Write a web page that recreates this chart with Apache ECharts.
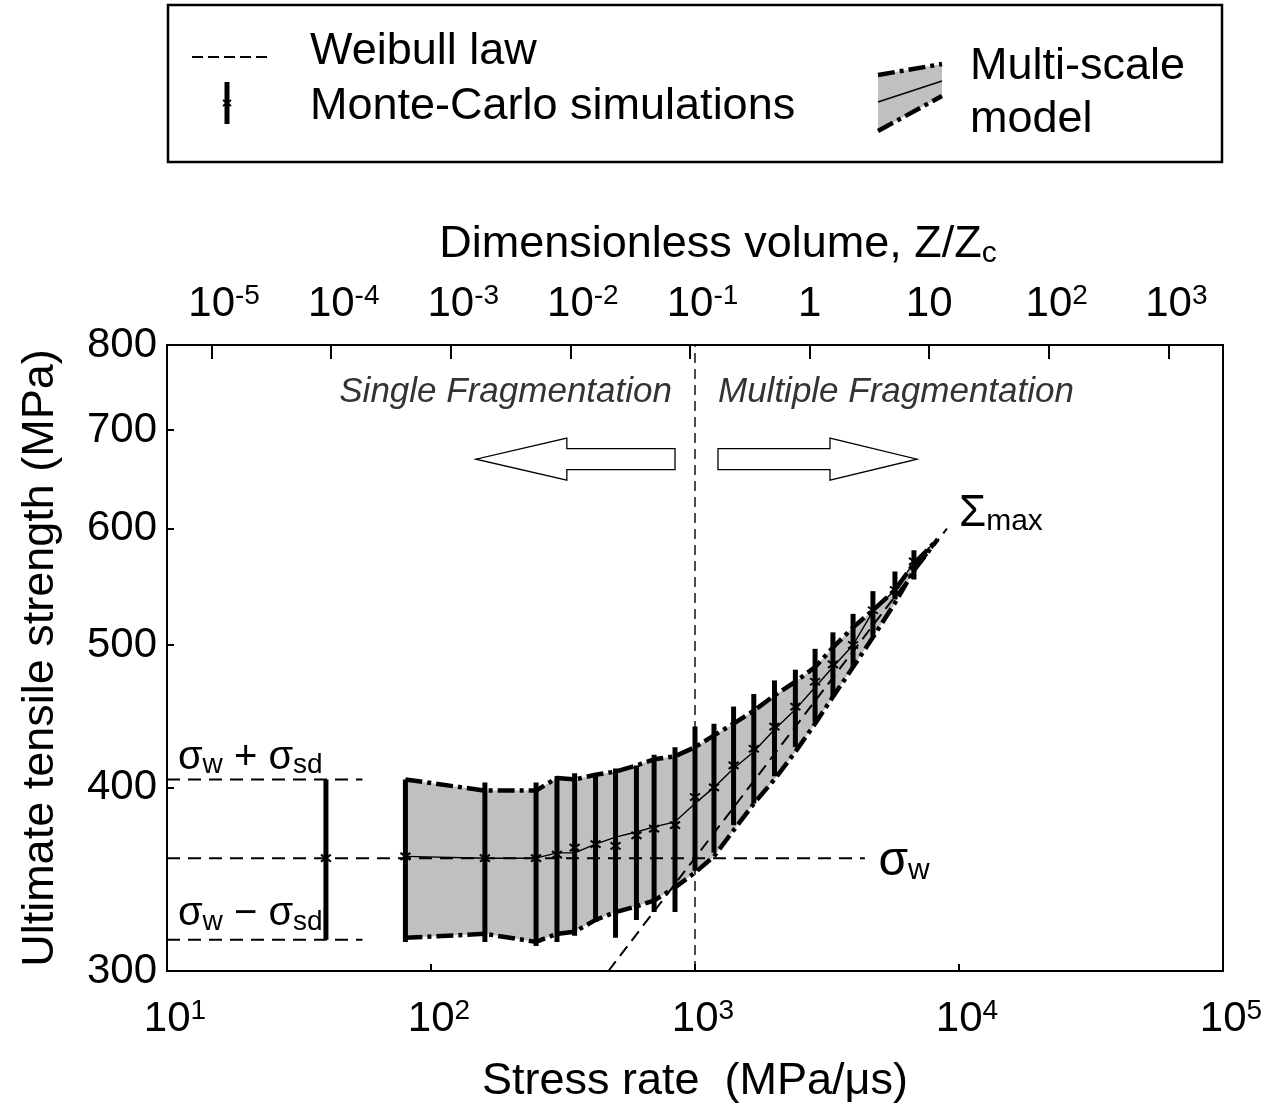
<!DOCTYPE html>
<html>
<head>
<meta charset="utf-8">
<script src="https://cdn.jsdelivr.net/npm/echarts@6/dist/echarts.min.js"></script>
<style>
html,body{margin:0;padding:0;background:#fff;}
#c{width:1283px;height:1115px;}
</style>
</head>
<body>
<div id="c"></div>
<script>
// ---------------- DATA ----------------
// Monte-Carlo simulations: stress rate (MPa/us) and strength (MPa)
const mcRates = [80,160,250,300,350,420,500,600,700,840,1000,1180,1400,1670,2000,2400,2850,3330,3970,4720,5720,6750];
const mcLow   = [314,314,312,314,317,324,316,325,329,329,351,361,377,390,407,426,443,461,483,507,537,554];
const mcMean  = [359,358,358,360,364,366,365,371,375,377,394,400,414,425,440,454,472,485,500,528,545,570];
const mcHigh  = [405,403,403,407,409,409,412,414,421,426,440,442,454,463,473,481,497,510,525,544,561,580];

// Multi-scale model band
const bandRates = [80,160,250,300,350,420,500,600,700,840,1000,1180,1400,1670,2000,2400,2850,3330,3970,4720,5720,6750,8300];
const bandUpper = [405,398,398,406,405,408,410,414,418,420,426,434,442,451,462,472,483,498,514,528,545,568,590];
const bandMean  = [359,358,358,361,361,366,370,373,376,379,390,400,412,423,438,452,468,483,500,527,545,569,590];
const bandLower = [316,318,314,318,319,325,329,332,335,342,350,359,374,390,405,423,442,461,483,506,534,562,590];

// Weibull law
const weibullRates  = [470, 9000];
const weibullValues = [300, 600];
const sigmaW = 358, sigmaPlus = 405, sigmaMinus = 315;
const sigmaWRates = [10, 4400];
const sigmaSdRates = [10, 55];
const refBar = [[40, 315, 358, 405]];   // rate, low, mean, high
const transitionRate = 1000;

// ticks
const bottomTicks = [1e1, 1e2, 1e3, 1e4, 1e5];
const topTicks = [1e-5, 1e-4, 1e-3, 1e-2, 1e-1, 1, 10, 100, 1000];
const yTicks = [300, 400, 500, 600, 700, 800];

// ---------------- CHART ----------------
const FONT = "'Liberation Sans', Arial, Helvetica, sans-serif";
const chart = echarts.init(document.getElementById('c'), null, {renderer: 'canvas'});

const supRich = {
  b: {fontSize: 42, lineHeight: 44, fontFamily: FONT, color: '#000'},
  s: {fontSize: 28, lineHeight: 16, verticalAlign: 'top', fontFamily: FONT, color: '#000'},
  p1: {fontSize: 28, lineHeight: 16, width: 16, fontFamily: FONT},
  p2: {fontSize: 28, lineHeight: 16, width: 25, fontFamily: FONT}
};
function powLabel(v, plainSmall) {
  const e = Math.round(Math.log10(v));
  if (plainSmall && e === 0) return '{b|1}';
  if (plainSmall && e === 1) return '{b|10}';
  const es = String(e);
  return '{p' + es.length + '| }{b|10}{s|' + es + '}';
}

function pairs(xs, ys) { return xs.map((x, i) => [x, ys[i]]); }

const edgeStyle = {color: '#000', width: 4.5, type: [17, 5, 4, 5], cap: 'butt'};

function barRender(params, api) {
  const x = api.value(0);
  const lo = api.coord([x, api.value(1)]);
  const m = api.coord([x, api.value(2)]);
  const hi = api.coord([x, api.value(3)]);
  return {
    type: 'group',
    children: [
      {type: 'line', shape: {x1: lo[0], y1: lo[1], x2: hi[0], y2: hi[1]}, style: {stroke: '#000', lineWidth: 5}},
      {type: 'line', shape: {x1: m[0] - 5, y1: m[1] - 3.5, x2: m[0] + 5, y2: m[1] + 3.5}, style: {stroke: '#000', lineWidth: 2}},
      {type: 'line', shape: {x1: m[0] - 5, y1: m[1] + 3.5, x2: m[0] + 5, y2: m[1] - 3.5}, style: {stroke: '#000', lineWidth: 2}}
    ]
  };
}

const option = {
  animation: false,
  backgroundColor: '#fff',
  grid: {left: 167, top: 345, width: 1056, height: 626, show: true, borderColor: '#000', borderWidth: 2, backgroundColor: 'transparent', containLabel: false},
  xAxis: [
    {
      type: 'log', logBase: 10, min: 10, max: 1e5, position: 'bottom', gridIndex: 0,
      name: 'Stress rate  (MPa/\u03bcs)', nameLocation: 'middle', nameGap: 88,
      nameTextStyle: {fontSize: 45, fontFamily: FONT, color: '#000'},
      axisLine: {show: true, lineStyle: {color: '#000', width: 2}},
      axisTick: {show: true, inside: true, length: 7, lineStyle: {color: '#000', width: 2}, customValues: bottomTicks},
      minorTick: {show: false},
      splitLine: {show: false},
      axisLabel: {margin: 26, customValues: bottomTicks, formatter: v => powLabel(v, false), rich: supRich, hideOverlap: false}
    },
    {
      type: 'log', logBase: 10, min: Math.pow(10, -5.373), max: Math.pow(10, 3.457), position: 'top', gridIndex: 0,
      name: '{n|Dimensionless volume, Z/Z}{c|c}', nameLocation: 'middle', nameGap: 76,
      nameTextStyle: {
        padding: [0, 0, 0, 46],
        rich: {
          n: {fontSize: 45, lineHeight: 48, fontFamily: FONT, color: '#000'},
          c: {fontSize: 30, lineHeight: 22, verticalAlign: 'bottom', fontFamily: FONT, color: '#000'}
        }
      },
      axisLine: {show: true, lineStyle: {color: '#000', width: 2}},
      axisTick: {show: true, inside: true, length: 14, lineStyle: {color: '#000', width: 2}, customValues: topTicks},
      splitLine: {show: false},
      axisLabel: {margin: 19, customValues: topTicks, formatter: v => powLabel(v, true), rich: supRich, hideOverlap: false}
    }
  ],
  yAxis: [
    {
      type: 'log', logBase: 10, min: 300, max: 800, position: 'left',
      name: 'Ultimate tensile strength (MPa)', nameLocation: 'middle', nameGap: 104, nameRotate: 90,
      nameTextStyle: {fontSize: 45, fontFamily: FONT, color: '#000'},
      axisLine: {show: true, lineStyle: {color: '#000', width: 2}},
      axisTick: {show: true, inside: true, length: 7, lineStyle: {color: '#000', width: 2}, customValues: yTicks},
      splitLine: {show: false},
      axisLabel: {margin: 10, fontSize: 42, fontFamily: FONT, color: '#000', customValues: yTicks, formatter: v => String(Math.round(v)), hideOverlap: false}
    }
  ],
  series: [
    {
      name: 'Multi-scale band', type: 'custom', xAxisIndex: 0, yAxisIndex: 0, z: 1, silent: true,
      data: [[bandRates[0], bandUpper[0]]],
      renderItem: function (params, api) {
        const pts = [];
        for (let i = 0; i < bandRates.length; i++) pts.push(api.coord([bandRates[i], bandUpper[i]]));
        for (let i = bandRates.length - 1; i >= 0; i--) pts.push(api.coord([bandRates[i], bandLower[i]]));
        return {type: 'polygon', shape: {points: pts}, style: {fill: '#c0c0c0', stroke: null}};
      }
    },
    {name: 'Model upper', type: 'line', z: 3, symbol: 'none', silent: true, data: pairs(bandRates, bandUpper), lineStyle: edgeStyle},
    {name: 'Model lower', type: 'line', z: 3, symbol: 'none', silent: true, data: pairs(bandRates, bandLower), lineStyle: edgeStyle},
    {name: 'Model mean', type: 'line', z: 3, symbol: 'none', silent: true, data: pairs(bandRates, bandMean), lineStyle: {color: '#000', width: 1.4}},
    {name: 'Weibull law', type: 'line', z: 4, symbol: 'none', silent: true, data: pairs(weibullRates, weibullValues), lineStyle: {color: '#000', width: 2, type: [12, 7]}},
    {name: 'sigma_w', type: 'line', z: 4, symbol: 'none', silent: true, data: sigmaWRates.map(r => [r, sigmaW]), lineStyle: {color: '#000', width: 2, type: [13, 8]}},
    {name: 'sigma_w + sd', type: 'line', z: 4, symbol: 'none', silent: true, data: sigmaSdRates.map(r => [r, sigmaPlus]), lineStyle: {color: '#000', width: 2, type: [13, 8]}},
    {name: 'sigma_w - sd', type: 'line', z: 4, symbol: 'none', silent: true, data: sigmaSdRates.map(r => [r, sigmaMinus]), lineStyle: {color: '#000', width: 2, type: [13, 8]}},
    {name: 'transition', type: 'line', z: 4, symbol: 'none', silent: true, data: [[transitionRate, yTicks[0]], [transitionRate, yTicks[yTicks.length - 1]]], lineStyle: {color: '#000', width: 1.4, type: [10, 6]}},
    {
      name: 'Monte-Carlo simulations', type: 'custom', z: 5, silent: true,
      data: mcRates.map((r, i) => [r, mcLow[i], mcMean[i], mcHigh[i]]),
      encode: {x: 0, y: [1, 2, 3]},
      renderItem: barRender
    },
    {
      name: 'Weibull reference bar', type: 'custom', z: 5, silent: true,
      data: refBar, encode: {x: 0, y: [1, 2, 3]},
      renderItem: barRender
    }
  ]
};
chart.setOption(option);

// ---------------- ANNOTATIONS & LEGEND ----------------
const P = (x, y) => chart.convertToPixel({xAxisIndex: 0, yAxisIndex: 0}, [x, y]);

function arrow(tailD, headD, tipD) {
  const t = P(tailD[0], tailD[1]), h = P(headD[0], headD[1]), p = P(tipD[0], tipD[1]);
  const y = p[1], hs = 10.5, hh = 21;
  return {
    type: 'polygon', z: 50,
    shape: {points: [[t[0], y - hs], [h[0], y - hs], [h[0], y - hh], [p[0], y], [h[0], y + hh], [h[0], y + hs], [t[0], y + hs]]},
    style: {fill: '#fff', stroke: '#000', lineWidth: 1.3}
  };
}
function txt(pt, text, opts) {
  return {
    type: 'text', z: 60, x: pt[0], y: pt[1],
    style: Object.assign({text: text, fill: '#000', font: '45px ' + FONT, textAlign: 'left', textVerticalAlign: 'middle'}, opts || {})
  };
}
const sigRich = {
  g: {fontSize: 40, lineHeight: 44, fontFamily: FONT, color: '#000'},
  w: {fontSize: 28, lineHeight: 26, verticalAlign: 'bottom', fontFamily: FONT, color: '#000'}
};

const graphics = [
  // in-plot annotations
  txt(P(818, 743), 'Single Fragmentation', {font: 'italic 35px ' + FONT, fill: '#333', textAlign: 'right'}),
  txt(P(1222, 743), 'Multiple Fragmentation', {font: 'italic 35px ' + FONT, fill: '#333'}),
  arrow([840, 669], [327, 669], [148, 669]),
  arrow([1222, 669], [3245, 669], [6934, 669]),
  txt(P(10000, 614), '{g|\u03a3}{w|max}', {rich: {
    g: {fontSize: 44, lineHeight: 46, fontFamily: FONT, color: '#000'},
    w: {fontSize: 30, lineHeight: 26, verticalAlign: 'bottom', fontFamily: FONT, color: '#000'}}}),
  txt(P(4950, 356), '{g|\u03c3}{w|w}', {rich: {
    g: {fontSize: 48, lineHeight: 48, fontFamily: FONT, color: '#000'},
    w: {fontSize: 30, lineHeight: 26, verticalAlign: 'bottom', fontFamily: FONT, color: '#000'}}}),
  txt(P(11, 419), '{g|\u03c3}{w|w}{g| + \u03c3}{w|sd}', {rich: sigRich}),
  txt(P(11, 328), '{g|\u03c3}{w|w}{g| \u2212 \u03c3}{w|sd}', {rich: sigRich}),

  // legend box
  {type: 'rect', z: 40, shape: {x: 168, y: 5, width: 1054, height: 157}, style: {fill: '#fff', stroke: '#000', lineWidth: 2.5}},
  {type: 'line', z: 41, shape: {x1: 192, y1: 57, x2: 270, y2: 57}, style: {stroke: '#000', lineWidth: 2, lineDash: [11, 5]}},
  {type: 'line', z: 41, shape: {x1: 227, y1: 82, x2: 227, y2: 124}, style: {stroke: '#000', lineWidth: 5}},
  {type: 'line', z: 41, shape: {x1: 223, y1: 100, x2: 231, y2: 106}, style: {stroke: '#000', lineWidth: 2}},
  {type: 'line', z: 41, shape: {x1: 223, y1: 106, x2: 231, y2: 100}, style: {stroke: '#000', lineWidth: 2}},
  txt([310, 52], 'Weibull law'),
  txt([310, 107], 'Monte-Carlo simulations'),
  {type: 'polygon', z: 41, shape: {points: [[878, 75], [942, 64], [942, 96], [878, 131]]}, style: {fill: '#c0c0c0'}},
  {type: 'line', z: 42, shape: {x1: 878, y1: 75, x2: 942, y2: 64}, style: {stroke: '#000', lineWidth: 4.5, lineDash: [17, 5, 4, 5]}},
  {type: 'line', z: 42, shape: {x1: 878, y1: 102, x2: 942, y2: 81}, style: {stroke: '#000', lineWidth: 1.4}},
  {type: 'line', z: 42, shape: {x1: 878, y1: 131, x2: 942, y2: 96}, style: {stroke: '#000', lineWidth: 4.5, lineDash: [17, 5, 4, 5]}},
  txt([970, 67], 'Multi-scale'),
  txt([970, 120], 'model')
];
chart.setOption({graphic: graphics});
</script>
</body>
</html>
